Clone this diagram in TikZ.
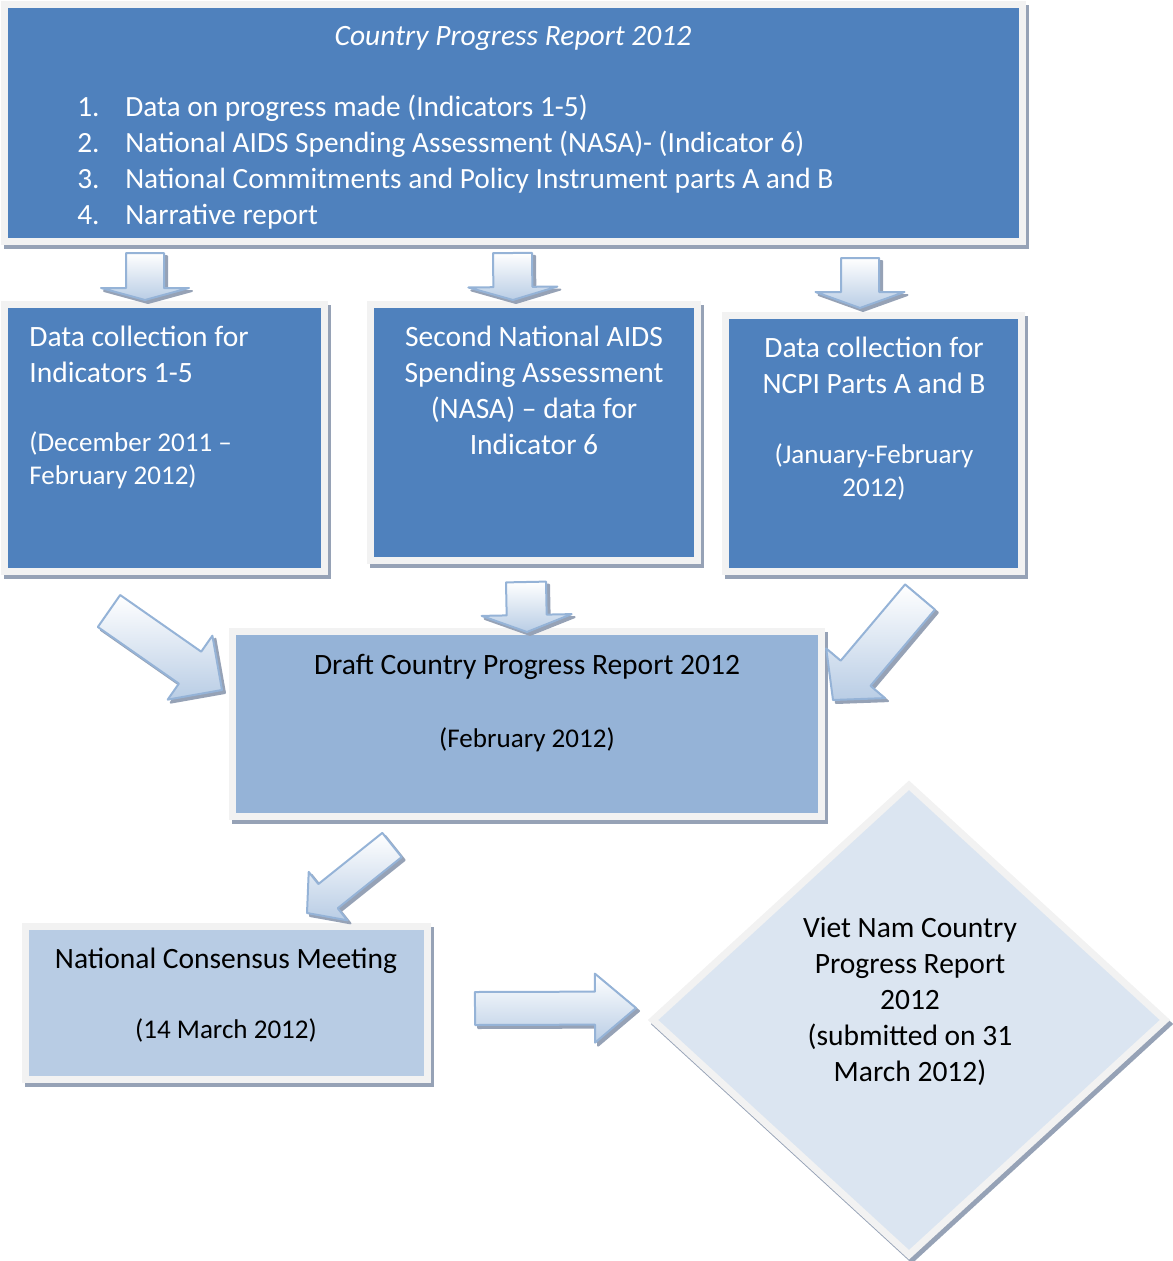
\documentclass[tikz,border=0pt]{standalone}
\usepackage{fontspec}
\setmainfont{Carlito}
\usepackage{tikz}
\usetikzlibrary{shapes.geometric, calc, shadows}

\definecolor{boxblue}{RGB}{79, 129, 189}
\definecolor{draftblue}{RGB}{149, 179, 215}
\definecolor{meetblue}{RGB}{184, 204, 228}
\definecolor{reportblue}{RGB}{219, 229, 241}
\definecolor{rimgray}{RGB}{242, 242, 242}
\definecolor{shadowgray}{RGB}{150, 162, 182}
\definecolor{arrowline}{RGB}{149, 179, 215}
\definecolor{arrowfill}{RGB}{185, 205, 229}

\newcommand{\datefont}{\fontsize{15.4}{18.8}\selectfont}

\tikzset{
  stagebox/.style={rectangle, draw=rimgray, line width=0.14cm, inner sep=0pt,
    drop shadow={shadow xshift=0.06cm, shadow yshift=-0.08cm, fill=shadowgray, draw=shadowgray, line width=0.14cm, opacity=1}},
  boxtext/.style={inner sep=0pt, anchor=north, align=center, font=\fontsize{16.8}{20.5}\selectfont},
  arrowbody/.style={draw=arrowline, line width=0.04cm, line join=round, top color=white, bottom color=arrowfill,
    drop shadow={shadow xshift=0.06cm, shadow yshift=-0.06cm, fill=shadowgray, draw=shadowgray, line width=0.04cm, line join=round, opacity=1}}
}

% block arrow: tail, tip, half shaft, half head, head length (px)
\newcommand{\blockarrow}[5]{%
  \coordinate (ab) at #1;
  \coordinate (at) at #2;
  \coordinate (ah) at ($(at)!#5*0.02cm!(ab)$);
  \path[arrowbody] ($(ab)!#3*0.02cm!90:(at)$) -- ($(ah)!#3*0.02cm!90:(at)$)
    -- ($(ah)!#4*0.02cm!90:(at)$) -- (at) -- ($(ah)!#4*0.02cm!-90:(at)$)
    -- ($(ah)!#3*0.02cm!-90:(at)$) -- ($(ab)!#3*0.02cm!-90:(at)$) -- cycle;
}

\begin{document}
\begin{tikzpicture}[x=0.02cm, y=-0.02cm]
  \useasboundingbox (0,0) rectangle (1173,1261);

  % Report contents
  \node[stagebox, fill=boxblue, minimum width=20.36cm, minimum height=4.74cm] (report) at (513.5,123) {};
  \node[boxtext, text=white, font=\fontsize{16.8}{20.5}\selectfont\itshape] (title) at (513,20) {\strut Country Progress Report 2012};
  \node[boxtext, text=white, anchor=north west, align=left, font=\fontsize{16.7}{20.5}\selectfont] (items) at (77,91) {%
    \strut\makebox[27.3pt][l]{1.}Data on progress made (Indicators 1-5)\\
    \makebox[27.3pt][l]{2.}National AIDS Spending Assessment (NASA)- (Indicator 6)\\
    \makebox[27.3pt][l]{3.}National Commitments and Policy Instrument parts A and B\\
    \makebox[27.3pt][l]{4.}Narrative report};

  % Data collection
  \node[stagebox, fill=boxblue, minimum width=6.4cm, minimum height=5.34cm] (indic) at (164.5,438) {};
  \node[boxtext, text=white, anchor=north west, align=left] (indictext) at (29,321) {%
    \strut Data collection for\\ Indicators 1-5\\[18.8pt] \datefont(December 2011 --\\[-1.7pt] \datefont February 2012)};

  \node[stagebox, fill=boxblue, minimum width=6.54cm, minimum height=5.12cm] (nasa) at (534,432.5) {};
  \node[boxtext, text=white] (nasatext) at (534,321) {%
    \strut Second National AIDS\\ Spending Assessment\\ (NASA) -- data for\\ Indicator 6};

  \node[stagebox, fill=boxblue, minimum width=5.92cm, minimum height=5.12cm] (ncpi) at (873.5,443.5) {};
  \node[boxtext, text=white] (ncpitext) at (874,332) {%
    \strut Data collection for\\ NCPI Parts A and B\\[19.4pt] \datefont(January-February\\[-1.7pt] \datefont 2012)};

  % Draft and meeting
  \node[stagebox, fill=draftblue, minimum width=11.78cm, minimum height=3.7cm] (draft) at (527,724) {};
  \node[boxtext] (drafttext) at (527,649) {%
    \strut Draft Country Progress Report 2012\\[21pt] \datefont(February 2012)};

  \node[stagebox, fill=meetblue, minimum width=8.04cm, minimum height=3.06cm] (meeting) at (226.5,1003) {};
  \node[boxtext] (meetingtext) at (226,943) {%
    \strut National Consensus Meeting\\[19.4pt] \datefont(14 March 2012)};

  % Final report
  \node[stagebox, diamond, fill=reportblue, minimum width=10.3cm, minimum height=9.45cm] (final) at (909,1020) {};
  \node[boxtext] (finaltext) at (910,912) {%
    \strut Viet Nam Country\\ Progress Report\\ 2012\\ (submitted on 31\\ March 2012)};

  % Arrows
  \blockarrow{(145,253)}{(145,300)}{19}{44}{12}
  \blockarrow{(512.5,253)}{(513,300)}{19.5}{44.5}{13}
  \blockarrow{(860,258)}{(860,308)}{19}{44.5}{16}
  \blockarrow{(526,582)}{(527,632)}{20}{45}{17}
  \blockarrow{(109,611)}{(222,690)}{19.5}{39}{39}
  \blockarrow{(920,597)}{(833,700)}{19.5}{38.5}{35}
  \blockarrow{(392,845)}{(307,913)}{15.5}{31}{27}
  \blockarrow{(475,1008.5)}{(636,1008)}{16.5}{34.5}{41}
\end{tikzpicture}
\end{document}
